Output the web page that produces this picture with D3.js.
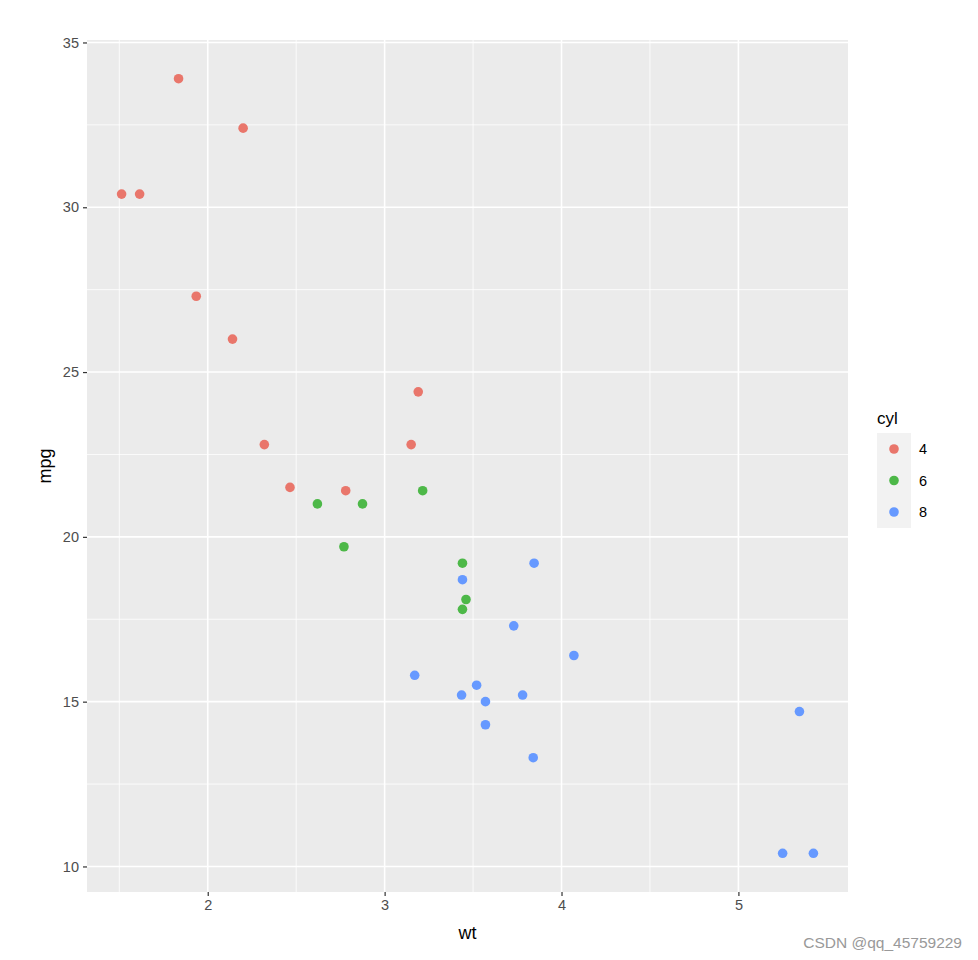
<!DOCTYPE html>
<html>
<head>
<meta charset="utf-8">
<script src="https://cdn.jsdelivr.net/npm/d3@7"></script>
<style>
  body { margin: 0; background: #fff; }
  text { font-family: "Liberation Sans", Arial, sans-serif; }
</style>
</head>
<body>
<svg width="978" height="960"></svg>
<script>
// mtcars: weight, mpg, cylinders
const wt  = [2.620, 2.875, 2.320, 3.215, 3.440, 3.460, 3.570, 3.190, 3.150, 3.440, 3.440,
             4.070, 3.730, 3.780, 5.250, 5.424, 5.345, 2.200, 1.615, 1.835, 2.465, 3.520,
             3.435, 3.840, 3.845, 1.935, 2.140, 1.513, 3.170, 2.770, 3.570, 2.780];
const mpg = [21.0, 21.0, 22.8, 21.4, 18.7, 18.1, 14.3, 24.4, 22.8, 19.2, 17.8,
             16.4, 17.3, 15.2, 10.4, 10.4, 14.7, 32.4, 30.4, 33.9, 21.5, 15.5,
             15.2, 13.3, 19.2, 27.3, 26.0, 30.4, 15.8, 19.7, 15.0, 21.4];
const cyl = [6, 6, 4, 6, 8, 6, 8, 4, 4, 6, 6, 8, 8, 8, 8, 8, 8, 4, 4, 4, 4, 8,
             8, 8, 8, 4, 4, 4, 8, 6, 8, 4];
const cylLevels = ['4', '6', '8'];
const cylColors = ['#E9766B', '#4DB848', '#6699FF'];
const xTicks = [2, 3, 4, 5];
const yTicks = [10, 15, 20, 25, 30, 35];

const data = wt.map((w, i) => ({ wt: w, mpg: mpg[i], cyl: String(cyl[i]) }));

const svg = d3.select('svg');
const margin = { top: 40, left: 87, right: 130, bottom: 68 };
const width = +svg.attr('width');
const height = +svg.attr('height');
const innerW = width - margin.left - margin.right;
const innerH = height - margin.top - margin.bottom;

// ggplot style 5% expansion
const pad = (ext) => { const r = ext[1] - ext[0]; return [ext[0] - r * 0.05, ext[1] + r * 0.05]; };

const x = d3.scaleLinear().domain(pad(d3.extent(wt))).range([0, innerW]);
const y = d3.scaleLinear().domain(pad(d3.extent(mpg))).range([innerH, 0]);
const color = d3.scaleOrdinal().domain(cylLevels).range(cylColors);

const g = svg.append('g').attr('transform', `translate(${margin.left},${margin.top})`);

g.append('rect').attr('width', innerW).attr('height', innerH).attr('fill', '#EBEBEB');

// minor grid
const xMinor = xTicks.slice(0, -1).map(t => t + 0.5).concat([xTicks[0] - 0.5]);
const yMinor = yTicks.slice(0, -1).map(t => t + 2.5);
g.selectAll('.xminor').data(xMinor).enter().append('line')
  .attr('x1', d => x(d)).attr('x2', d => x(d)).attr('y1', 0).attr('y2', innerH)
  .attr('stroke', '#fff').attr('stroke-width', 0.8);
g.selectAll('.yminor').data(yMinor).enter().append('line')
  .attr('y1', d => y(d)).attr('y2', d => y(d)).attr('x1', 0).attr('x2', innerW)
  .attr('stroke', '#fff').attr('stroke-width', 0.8);

// major grid
g.selectAll('.xmajor').data(xTicks).enter().append('line')
  .attr('x1', d => x(d)).attr('x2', d => x(d)).attr('y1', 0).attr('y2', innerH)
  .attr('stroke', '#fff').attr('stroke-width', 1.6);
g.selectAll('.ymajor').data(yTicks).enter().append('line')
  .attr('y1', d => y(d)).attr('y2', d => y(d)).attr('x1', 0).attr('x2', innerW)
  .attr('stroke', '#fff').attr('stroke-width', 1.6);

// axes
const xAxis = g.append('g').attr('transform', `translate(0,${innerH})`)
  .call(d3.axisBottom(x).tickValues(xTicks).tickSize(4).tickPadding(4).tickFormat(d3.format('d')));
const yAxis = g.append('g')
  .call(d3.axisLeft(y).tickValues(yTicks).tickSize(4).tickPadding(4).tickFormat(d3.format('d')));
[xAxis, yAxis].forEach(a => {
  a.select('.domain').remove();
  a.selectAll('line').attr('stroke', '#333').attr('stroke-width', 1.2);
  a.selectAll('text').attr('fill', '#4D4D4D').style('font-size', '14.5px');
});

// points
g.selectAll('circle').data(data).enter().append('circle')
  .attr('cx', d => x(d.wt)).attr('cy', d => y(d.mpg)).attr('r', 4.8)
  .attr('fill', d => color(d.cyl));

// axis titles
svg.append('text').attr('x', margin.left + innerW / 2).attr('y', 939)
  .attr('text-anchor', 'middle').style('font-size', '18px').text('wt');
svg.append('text').attr('transform', `translate(51,${margin.top + innerH / 2}) rotate(-90)`)
  .attr('text-anchor', 'middle').style('font-size', '18px').text('mpg');

// legend
const lg = svg.append('g').attr('transform', 'translate(877,433)');
lg.append('text').attr('x', 0).attr('y', -9).style('font-size', '17px').text('cyl');
lg.append('rect').attr('width', 34).attr('height', 95).attr('fill', '#F2F2F2');
cylLevels.forEach((c, i) => {
  const cy = 16 + i * 31.5;
  lg.append('circle').attr('cx', 17).attr('cy', cy).attr('r', 4.8).attr('fill', color(c));
  lg.append('text').attr('x', 42).attr('y', cy + 5).style('font-size', '14.5px').text(c);
});

// watermark
svg.append('text').attr('x', 962).attr('y', 948).attr('text-anchor', 'end')
  .attr('fill', '#999').style('font-size', '15.5px').text('CSDN @qq_45759229');
</script>
</body>
</html>
